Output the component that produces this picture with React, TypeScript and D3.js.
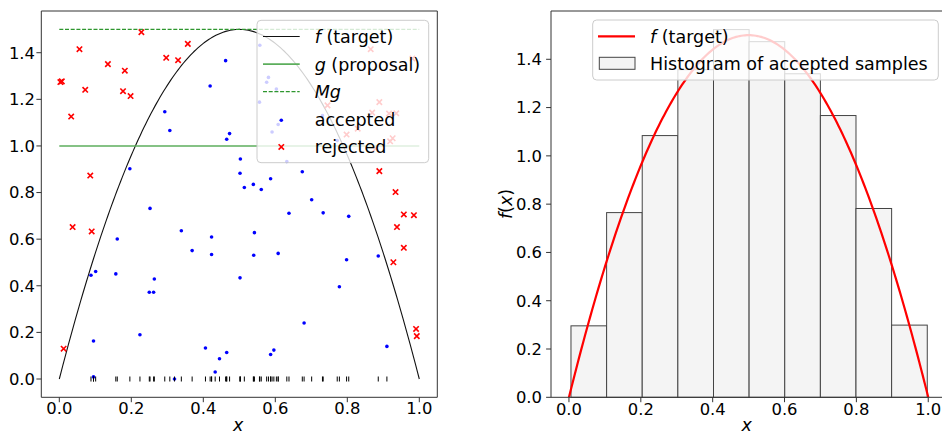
import React from "react";
import * as d3 from "d3";

// Rejection sampling of f(x) = 6x(1-x) with a uniform proposal g and envelope M = 1.5
const acceptedPts: [number, number][] = [
  [0.462, 1.366], [0.419, 1.257], [0.293, 1.147], [0.307, 1.066], [0.473, 1.053],
  [0.465, 1.029], [0.503, 0.944], [0.502, 0.883], [0.196, 0.902],
  [0.514, 0.822], [0.539, 0.835], [0.561, 0.813], [0.587, 0.859], [0.675, 0.889], [0.701, 0.769],
  [0.557, 1.432], [0.581, 1.294], [0.576, 1.273], [0.603, 1.244], [0.556, 1.188],
  [0.608, 1.092], [0.591, 1.060], [0.632, 0.933], [0.731, 1.130], [0.772, 1.023],
  [0.252, 0.732], [0.339, 0.636], [0.423, 0.609], [0.161, 0.601], [0.369, 0.551],
  [0.423, 0.534], [0.101, 0.461], [0.088, 0.445], [0.157, 0.451], [0.264, 0.429],
  [0.250, 0.372], [0.262, 0.372], [0.502, 0.434], [0.224, 0.190], [0.095, 0.163],
  [0.406, 0.133], [0.465, 0.114], [0.445, 0.087], [0.433, 0.030], [0.095, 0.009], [0.320, 0.000],
  [0.638, 0.711], [0.733, 0.713], [0.804, 0.698], [0.542, 0.628], [0.540, 0.531],
  [0.608, 0.539], [0.798, 0.512], [0.886, 0.528], [0.778, 0.396], [0.680, 0.240],
  [0.596, 0.124], [0.587, 0.105], [0.910, 0.140],
];

const rejectedPts: [number, number][] = [
  [0.228, 1.488], [0.056, 1.415], [0.357, 1.438], [0.297, 1.378], [0.330, 1.368],
  [0.135, 1.351], [0.182, 1.323], [0.003, 1.274], [0.007, 1.277], [0.072, 1.241],
  [0.177, 1.235], [0.198, 1.214], [0.033, 1.126], [0.086, 0.873],
  [0.037, 0.652], [0.090, 0.633], [0.012, 0.130],
  [0.957, 0.706], [0.985, 0.703], [0.938, 0.652], [0.957, 0.563], [0.928, 0.501],
  [0.991, 0.215], [0.993, 0.184],
  [0.865, 1.415], [0.981, 1.375], [0.889, 1.188], [0.745, 1.174], [0.869, 1.143],
  [0.916, 1.139], [0.936, 1.140], [0.829, 1.074], [0.798, 1.049], [0.926, 1.033],
  [0.919, 1.020], [0.879, 0.989],
  [0.889, 0.892], [0.934, 0.802],
];

// Histogram of accepted samples (density)
const binEdges = [0.0056, 0.1048, 0.2039, 0.3031, 0.4023, 0.5014, 0.6006, 0.6998, 0.7989, 0.8981, 0.9973];
const binDensity = [0.296, 0.765, 1.084, 1.357, 1.523, 1.473, 1.34, 1.167, 0.782, 0.299];

const xTicks = [0, 0.2, 0.4, 0.6, 0.8, 1.0];
const yTicks = [0, 0.2, 0.4, 0.6, 0.8, 1.0, 1.2, 1.4];

const proposalLevel = 1.0;
const envelopeLevel = 1.5;

const W = 942;
const H = 435;
const FONT = "'DejaVu Sans', sans-serif";
const TICK_FS = 16.4;
const LEG_FS = 17.5;
const GREEN_SOLID = "#5cae5c";
const GREEN_DASH = "#2e962e";

const target = (x: number) => 6 * x * (1 - x);
const grid = d3.range(0, 1.00001, 0.005);
const fmt = d3.format(".1f");

function Frame({ x0, x1, y0, y1, right = true }: { x0: number; x1: number; y0: number; y1: number; right?: boolean }) {
  return (
    <g stroke="#333" strokeWidth={1} fill="none">
      <line x1={x0} x2={x0} y1={y0} y2={y1} />
      <line x1={x0} x2={x1} y1={y0} y2={y0} />
      <line x1={x0} x2={x1} y1={y1} y2={y1} />
      {right && <line x1={x1} x2={x1} y1={y0} y2={y1} />}
    </g>
  );
}

function Axes({ xs, ys, xLabelBase, yLabelEnd }: { xs: d3.ScaleLinear<number, number>; ys: d3.ScaleLinear<number, number>; xLabelBase: number; yLabelEnd: number }) {
  const [bottom] = ys.range();
  const [left] = xs.range();
  return (
    <g fontFamily={FONT} fontSize={TICK_FS} fill="#000">
      {xTicks.map((t) => (
        <g key={"x" + t}>
          <line x1={xs(t)} x2={xs(t)} y1={bottom} y2={bottom + 4.9} stroke="#333" strokeWidth={1} />
          <text x={xs(t)} y={xLabelBase} textAnchor="middle">{fmt(t)}</text>
        </g>
      ))}
      {yTicks.map((t) => (
        <g key={"y" + t}>
          <line x1={left - 4.9} x2={left} y1={ys(t)} y2={ys(t)} stroke="#333" strokeWidth={1} />
          <text x={yLabelEnd} y={ys(t) + 5.9} textAnchor="end">{fmt(t)}</text>
        </g>
      ))}
    </g>
  );
}

function Cross({ x, y, s = 2.7 }: { x: number; y: number; s?: number }) {
  return (
    <path d={`M${x - s},${y - s}L${x + s},${y + s}M${x - s},${y + s}L${x + s},${y - s}`} stroke="#ff0000" strokeWidth={1.6} fill="none" />
  );
}

export default function App() {
  // left panel: sampling picture
  const xL = d3.scaleLinear().domain([-0.05, 1.05]).range([41.3, 437.3]);
  const yL = d3.scaleLinear().domain([-0.0785, 1.579]).range([397.3, 11]);
  // right panel: histogram
  const xR = d3.scaleLinear().domain([-0.05, 1.05]).range([551, 946.2]);
  const yR = d3.scaleLinear().domain([0, 1.6]).range([397.3, 11]);

  const curveL = d3.line<number>().x((d) => xL(d)).y((d) => yL(target(d)))(grid) || "";
  const curveR = d3.line<number>().x((d) => xR(d)).y((d) => yR(target(d)))(grid) || "";

  const legRowL = (i: number) => 36.5 + 27.6 * i;
  const legTextX = 314.7;

  return (
    <svg width={W} height={H} style={{ position: "absolute", left: 0, top: 0, background: "#fff" }}>
      <rect x={0} y={0} width={W} height={H} fill="#fff" />

      {/* ---------- left panel ---------- */}
      <path d={curveL} stroke="#111" strokeWidth={1.1} fill="none" />
      <line x1={xL(0)} x2={xL(1)} y1={yL(proposalLevel)} y2={yL(proposalLevel)} stroke={GREEN_SOLID} strokeWidth={1.6} />
      <line x1={xL(0)} x2={xL(1)} y1={yL(envelopeLevel)} y2={yL(envelopeLevel)} stroke={GREEN_DASH} strokeWidth={1.2} strokeDasharray="4,1.7" />
      {acceptedPts.map(([x, y], i) => (
        <circle key={"a" + i} cx={xL(x)} cy={yL(y)} r={1.8} fill="#0000ff" />
      ))}
      {rejectedPts.map(([x, y], i) => (
        <Cross key={"r" + i} x={xL(x)} y={yL(y)} />
      ))}
      {acceptedPts.map(([x], i) => (
        <line key={"rug" + i} x1={xL(x)} x2={xL(x)} y1={yL(0) - 2.5} y2={yL(0) + 2.5} stroke="#000" strokeWidth={1} />
      ))}
      <Frame x0={41.3} x1={437.3} y0={11} y1={397.3} />
      <Axes xs={xL} ys={yL} xLabelBase={413.5} yLabelEnd={35} />
      <text x={238.3} y={431} textAnchor="middle" fontFamily={FONT} fontSize={LEG_FS} fontStyle="italic">x</text>

      {/* legend */}
      <rect x={257} y={20.3} width={171.7} height={142.4} rx={4} fill="#fff" fillOpacity={0.8} stroke="#ccc" strokeWidth={1} />
      <g fontFamily={FONT} fontSize={LEG_FS} fill="#000">
        <line x1={263} x2={299.7} y1={legRowL(0)} y2={legRowL(0)} stroke="#111" strokeWidth={1.1} />
        <text x={legTextX} y={legRowL(0) + 6.5}><tspan fontStyle="italic">f</tspan> (target)</text>
        <line x1={263} x2={299.7} y1={legRowL(1)} y2={legRowL(1)} stroke={GREEN_SOLID} strokeWidth={1.6} />
        <text x={legTextX} y={legRowL(1) + 6.5}><tspan fontStyle="italic">g</tspan> (proposal)</text>
        <line x1={263} x2={299.7} y1={legRowL(2)} y2={legRowL(2)} stroke={GREEN_DASH} strokeWidth={1.2} strokeDasharray="4,1.7" />
        <text x={legTextX} y={legRowL(2) + 6.5}><tspan fontStyle="italic">Mg</tspan></text>
        <circle cx={281.3} cy={legRowL(3) + 1} r={1.8} fill="#0000ff" />
        <text x={legTextX} y={legRowL(3) + 6.5}>accepted</text>
        <Cross x={281.3} y={legRowL(4)} />
        <text x={legTextX} y={legRowL(4) + 6.5}>rejected</text>
      </g>

      {/* ---------- right panel ---------- */}
      {binDensity.map((d, i) => (
        <rect
          key={"b" + i}
          x={xR(binEdges[i])}
          y={yR(d)}
          width={xR(binEdges[i + 1]) - xR(binEdges[i])}
          height={yR(0) - yR(d)}
          fill="#f4f4f4"
          stroke="#444"
          strokeWidth={1}
        />
      ))}
      <path d={curveR} stroke="#ff0000" strokeWidth={2.2} fill="none" />
      <Frame x0={551} x1={946.2} y0={11} y1={397.3} right={false} />
      <Axes xs={xR} ys={yR} xLabelBase={415} yLabelEnd={542} />
      <text x={746.7} y={431} textAnchor="middle" fontFamily={FONT} fontSize={LEG_FS} fontStyle="italic">x</text>
      <text transform={`translate(512,204) rotate(-90)`} textAnchor="middle" fontFamily={FONT} fontSize={LEG_FS}>
        <tspan fontStyle="italic">f</tspan>(<tspan fontStyle="italic">x</tspan>)
      </text>

      {/* legend */}
      <rect x={592.7} y={20} width={345.6} height={60} rx={4} fill="#fff" fillOpacity={0.8} stroke="#ccc" strokeWidth={1} />
      <g fontFamily={FONT} fontSize={LEG_FS} fill="#000">
        <line x1={598} x2={635} y1={36.3} y2={36.3} stroke="#ff0000" strokeWidth={2.2} />
        <text x={650} y={42.8}><tspan fontStyle="italic">f</tspan> (target)</text>
        <rect x={599.3} y={57.3} width={35.7} height={12} fill="#f4f4f4" stroke="#444" strokeWidth={1} />
        <text x={650} y={69.5}>Histogram of accepted samples</text>
      </g>
    </svg>
  );
}
